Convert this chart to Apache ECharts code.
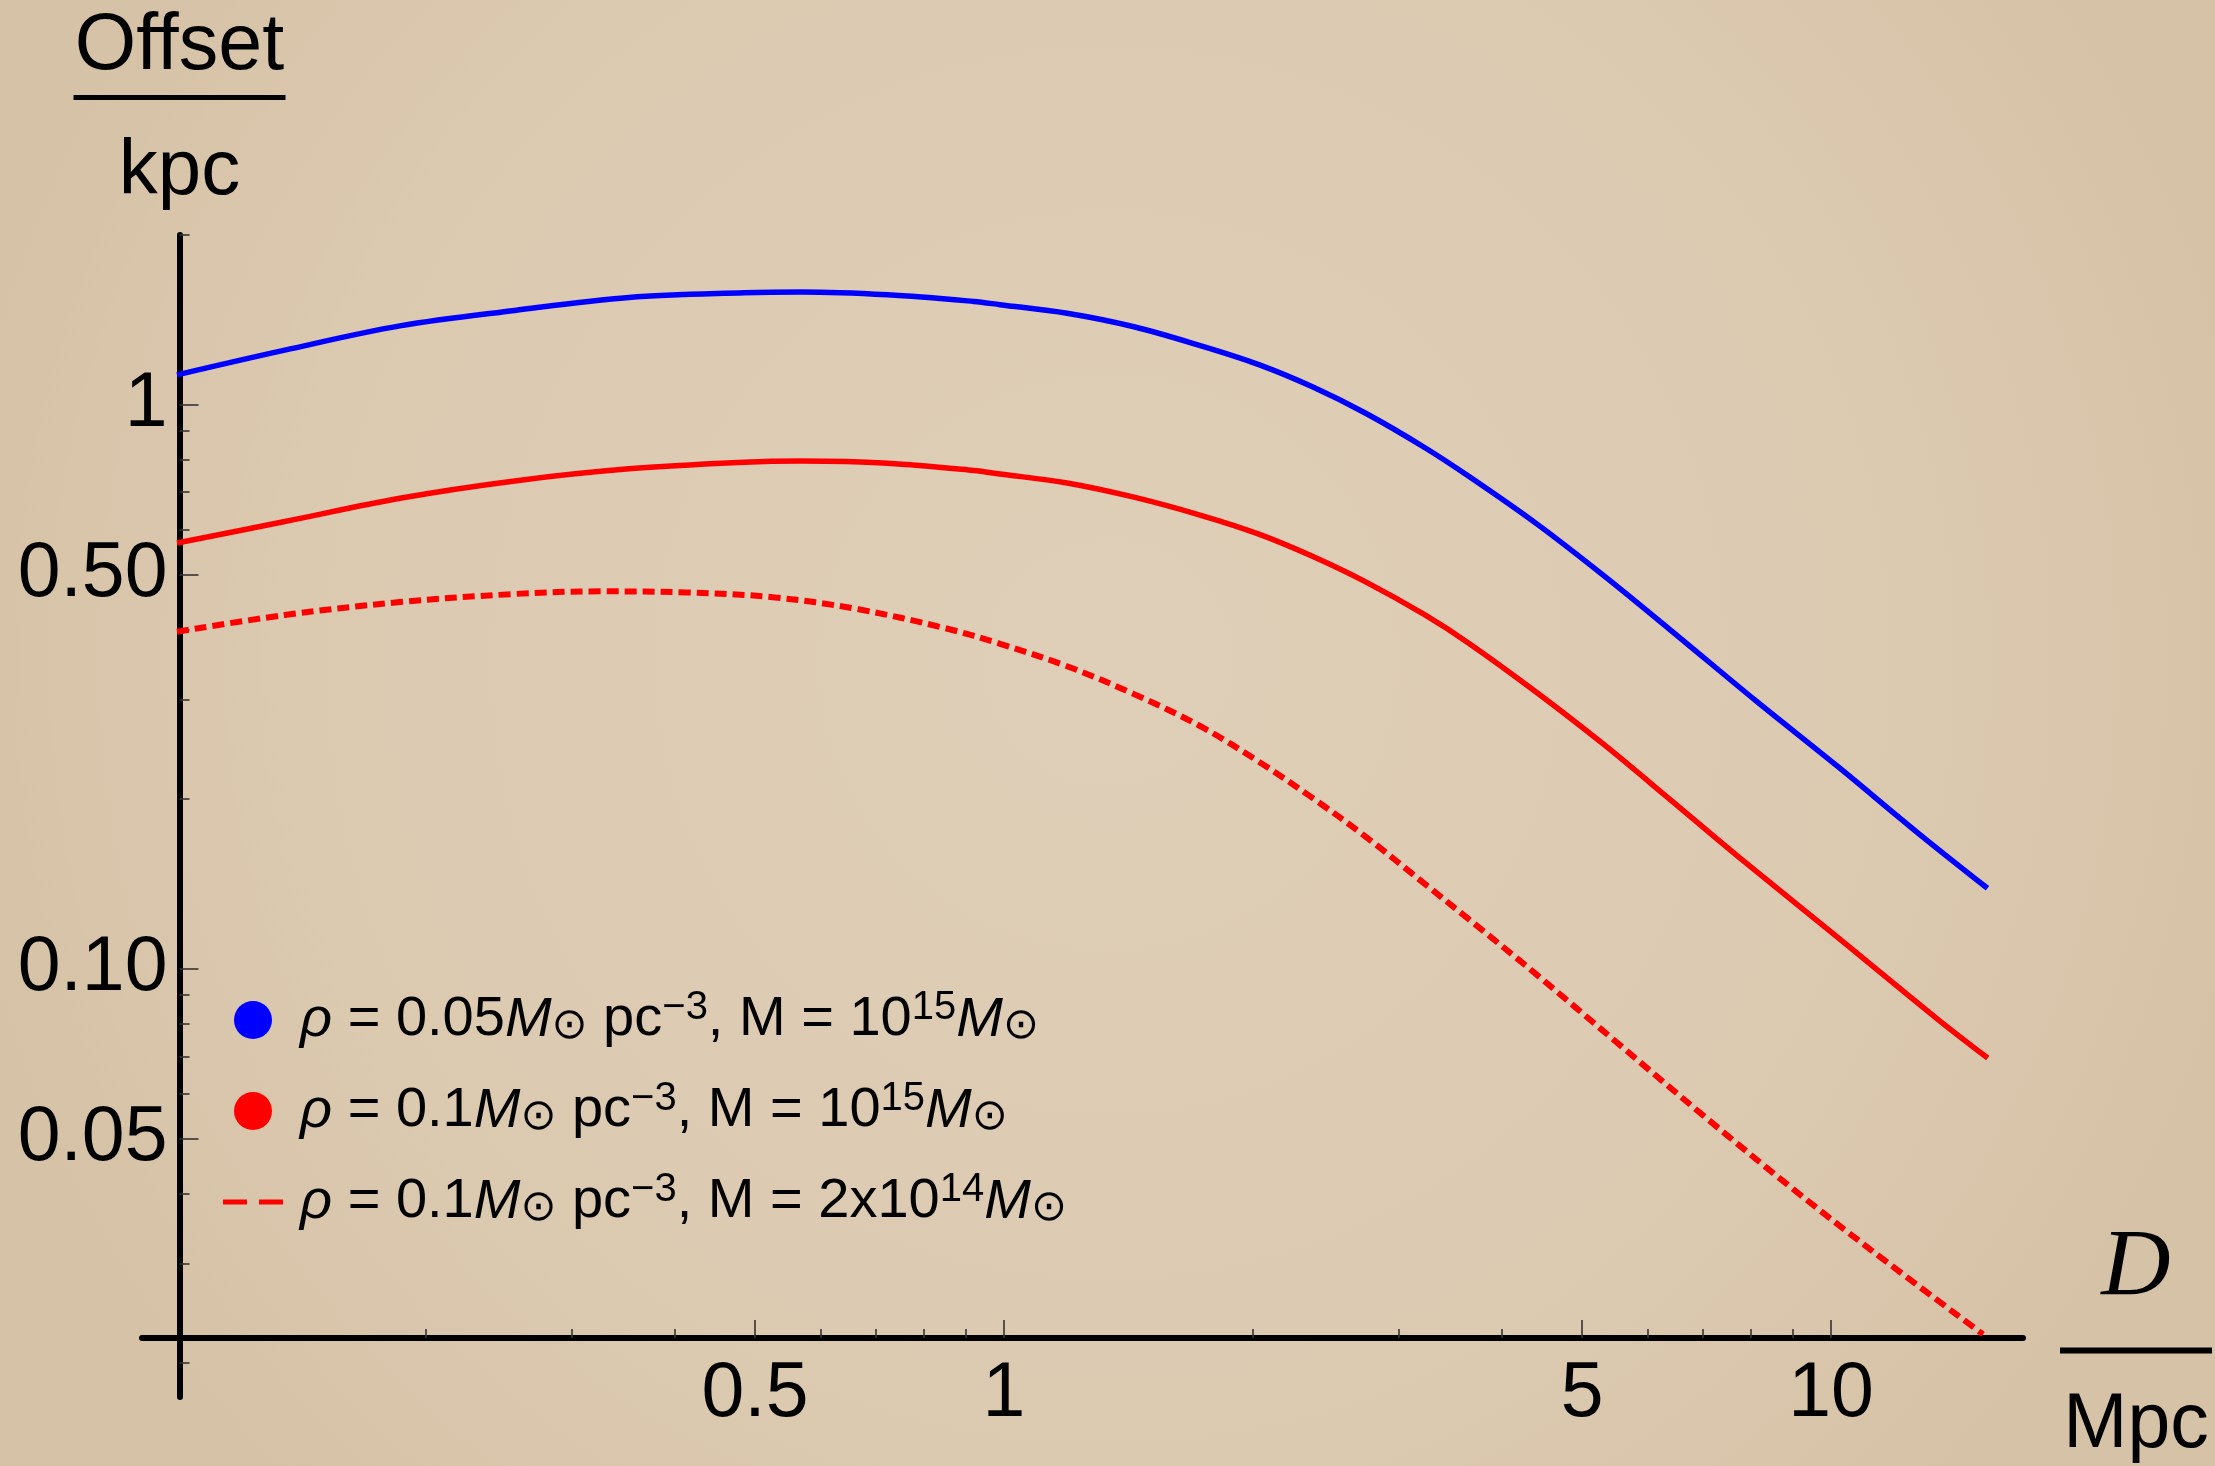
<!DOCTYPE html>
<html>
<head>
<meta charset="utf-8">
<script src="https://cdn.jsdelivr.net/npm/echarts@6/dist/echarts.min.js"></script>
<style>
html,body{margin:0;padding:0;background:#dccab1;}
#c{width:2215px;height:1466px;}
</style>
</head>
<body>
<div id="c"></div>
<script>
// ---------- data ----------
const seriesNames = [
  'ρ = 0.05M⊙ pc−3, M = 10^15 M⊙',
  'ρ = 0.1M⊙ pc−3, M = 10^15 M⊙',
  'ρ = 0.1M⊙ pc−3, M = 2x10^14 M⊙'
];
const blueD = [0.1, 0.135, 0.186, 0.256, 0.352, 0.485, 0.569, 0.723, 0.919, 0.989, 1.192, 1.436, 1.73, 2.033, 2.36, 2.741, 3.221, 3.647, 4.395, 5.293, 6.38, 8.13, 10.17, 12.72, 15.46];
const blueOffset = [1.13, 1.25, 1.38, 1.47, 1.55, 1.58, 1.585, 1.567, 1.525, 1.505, 1.453, 1.375, 1.272, 1.178, 1.076, 0.965, 0.841, 0.747, 0.617, 0.500, 0.400, 0.298, 0.229, 0.1745, 0.139];
const redD = [0.1, 0.135, 0.186, 0.256, 0.352, 0.485, 0.569, 0.723, 0.919, 0.989, 1.192, 1.436, 1.73, 2.033, 2.36, 2.741, 3.221, 3.647, 4.395, 5.293, 6.38, 7.69, 10.17, 13.45, 15.47];
const redOffset = [0.569, 0.621, 0.683, 0.733, 0.770, 0.791, 0.795, 0.788, 0.765, 0.754, 0.727, 0.686, 0.637, 0.590, 0.539, 0.485, 0.425, 0.378, 0.310, 0.251, 0.200, 0.159, 0.114, 0.0815, 0.0695];
const dotD = [0.1, 0.135, 0.186, 0.256, 0.325, 0.413, 0.525, 0.667, 0.848, 0.989, 1.192, 1.436, 1.73, 2.033, 2.36, 2.741, 3.221, 3.647, 4.395, 5.50, 7.004, 8.925, 11.16, 15.27];
const dotOffset = [0.396, 0.424, 0.447, 0.462, 0.467, 0.465, 0.456, 0.434, 0.402, 0.377, 0.344, 0.307, 0.269, 0.233, 0.201, 0.1713, 0.1418, 0.1225, 0.0980, 0.0742, 0.0550, 0.0411, 0.0318, 0.0225];

const xTickValues = [0.5, 1, 5, 10];
const xTickLabels = ['0.5', '1', '5', '10'];
const xMinorTicks = [0.2, 0.3, 0.4, 0.6, 0.7, 0.8, 0.9, 2, 3, 4, 6, 7, 8, 9];
const yTickValues = [0.05, 0.1, 0.5, 1];
const yTickLabels = ['0.05', '0.10', '0.50', '1'];
const yMinorTicks = [0.02, 0.03, 0.04, 0.06, 0.07, 0.08, 0.09, 0.2, 0.3, 0.4, 0.6, 0.7, 0.8, 0.9, 2];

// axis ranges (log10 space: x -1.0423..1.2322, y -1.7589..0.30103)
const xMin = Math.pow(10, -1.04232), xMax = Math.pow(10, 1.23216);
const yMin = Math.pow(10, -1.75887), yMax = 2;

// ---------- chart ----------
const FONT = '"Liberation Sans", Arial, Helvetica, sans-serif';
const SYMF = '"Liberation Sans", "DejaVu Sans", sans-serif';
function pick(vals, labels) {
  return function (v) {
    for (let i = 0; i < vals.length; i++) {
      if (Math.abs(v - vals[i]) / vals[i] < 1e-6) return labels[i];
    }
    return '';
  };
}
const legendRich = [
  '{r|ρ} = 0.05{i|M}{s|⊙} pc{p|−3}, M = 10{p|15}{i|M}{s|⊙}',
  '{r|ρ} = 0.1{i|M}{s|⊙} pc{p|−3}, M = 10{p|15}{i|M}{s|⊙}',
  '{r|ρ} = 0.1{i|M}{s|⊙} pc{p|−3}, M = 2x10{p|14}{i|M}{s|⊙}'
];
const LFS = 56;

const chart = echarts.init(document.getElementById('c'), null, {renderer: 'canvas'});
const tickStyle = {color: '#333', width: 1.6};
chart.setOption({
  animation: false,
  backgroundColor: {
    type: 'radial', x: 0.5, y: 0.45, r: 0.8,
    colorStops: [
      {offset: 0, color: '#e0cfb8'},
      {offset: 0.7, color: '#dbc9b0'},
      {offset: 1, color: '#d6c2a6'}
    ]
  },
  grid: {left: 142, right: 192, top: 235, bottom: 69, containLabel: false},
  legend: {
    orient: 'vertical', left: 223, top: 988, padding: 0,
    itemWidth: 60, itemHeight: 38, itemGap: 27,
    selectedMode: false,
    itemStyle: {borderWidth: 0},
    data: [
      {name: seriesNames[0], icon: 'circle'},
      {name: seriesNames[1], icon: 'circle'},
      {name: seriesNames[2], icon: 'path://M0,0H24V5H0Z M36,0H60V5H36Z'}
    ],
    formatter: function (name) { return legendRich[seriesNames.indexOf(name)]; },
    textStyle: {
      fontFamily: FONT, fontSize: LFS, color: '#000', lineHeight: 64,
      rich: {
        r: {fontFamily: SYMF, fontStyle: 'italic', fontSize: LFS, lineHeight: 64, color: '#000', padding: [0, 0, 0, 12]},
        i: {fontFamily: FONT, fontStyle: 'italic', fontSize: LFS, lineHeight: 64, color: '#000'},
        s: {fontFamily: SYMF, fontSize: 43, lineHeight: 44, color: '#000', padding: [12, 0, 0, 0]},
        p: {fontFamily: FONT, fontSize: 40, lineHeight: 40, color: '#000', padding: [0, 0, 24, 0]}
      }
    }
  },
  xAxis: [
    {
      type: 'log', logBase: 10, min: xMin, max: xMax,
      position: 'bottom', offset: -59,
      axisLine: {show: true, lineStyle: {color: '#000', width: 6}},
      axisTick: {show: true, inside: true, length: 18, lineStyle: tickStyle, customValues: xTickValues},
      axisLabel: {show: true, customValues: xTickValues, formatter: pick(xTickValues, xTickLabels),
        margin: 18, fontSize: 77, fontFamily: FONT, color: '#000'},
      splitLine: {show: false},
      name: '{d|D}\n{bar|}\n{u|Mpc}',
      nameLocation: 'end', nameGap: 37,
      nameTextStyle: {
        padding: [13, 0, 0, 0],
        rich: {
          d: {fontFamily: '"Liberation Serif", "Times New Roman", serif', fontStyle: 'italic', fontSize: 96, lineHeight: 142, align: 'center', color: '#000'},
          bar: {width: 152, height: 6, lineHeight: 20, backgroundColor: '#000', align: 'center'},
          u: {fontFamily: FONT, fontSize: 77, lineHeight: 130, align: 'center', color: '#000'}
        }
      }
    },
    {
      type: 'log', logBase: 10, min: xMin, max: xMax,
      position: 'bottom', offset: -59,
      axisLine: {show: false},
      axisTick: {show: true, inside: true, length: 9, lineStyle: tickStyle, customValues: xMinorTicks},
      axisLabel: {show: false},
      splitLine: {show: false}
    }
  ],
  yAxis: [
    {
      type: 'log', logBase: 10, min: yMin, max: yMax,
      position: 'left', offset: -37.5,
      axisLine: {show: true, lineStyle: {color: '#000', width: 6}},
      axisTick: {show: true, inside: true, length: 19, lineStyle: tickStyle, customValues: yTickValues},
      axisLabel: {show: true, customValues: yTickValues, formatter: pick(yTickValues, yTickLabels),
        margin: 12, fontSize: 77, fontFamily: FONT, color: '#000'},
      splitLine: {show: false},
      name: '{num|Offset}\n{bar|}\n{den|kpc}',
      nameLocation: 'end', nameGap: 4,
      nameTextStyle: {
        rich: {
          num: {fontFamily: FONT, fontSize: 79, lineHeight: 69, align: 'center', color: '#000'},
          bar: {width: 212, height: 5, lineHeight: 31, backgroundColor: '#000', align: 'center'},
          den: {fontFamily: FONT, fontSize: 78, lineHeight: 118, align: 'center', color: '#000'}
        }
      }
    },
    {
      type: 'log', logBase: 10, min: yMin, max: yMax,
      position: 'left', offset: -37.5,
      axisLine: {show: false},
      axisTick: {show: true, inside: true, length: 10, lineStyle: tickStyle, customValues: yMinorTicks},
      axisLabel: {show: false},
      splitLine: {show: false}
    }
  ],
  series: [
    {
      name: seriesNames[0], type: 'line', xAxisIndex: 0, yAxisIndex: 0,
      data: blueD.map((d, i) => [d, blueOffset[i]]),
      showSymbol: false, symbol: 'none', smooth: 0.35,
      color: '#0000ff', lineStyle: {color: '#0000ff', width: 5.5}
    },
    {
      name: seriesNames[1], type: 'line', xAxisIndex: 0, yAxisIndex: 0,
      data: redD.map((d, i) => [d, redOffset[i]]),
      showSymbol: false, symbol: 'none', smooth: 0.35,
      color: '#ff0000', lineStyle: {color: '#ff0000', width: 5.5}
    },
    {
      name: seriesNames[2], type: 'line', xAxisIndex: 0, yAxisIndex: 0,
      data: dotD.map((d, i) => [d, dotOffset[i]]),
      showSymbol: false, symbol: 'none', smooth: 0.35,
      color: '#ff0000', lineStyle: {color: '#ff0000', width: 6, type: [12, 6], cap: 'butt'}
    }
  ]
});
</script>
</body>
</html>
